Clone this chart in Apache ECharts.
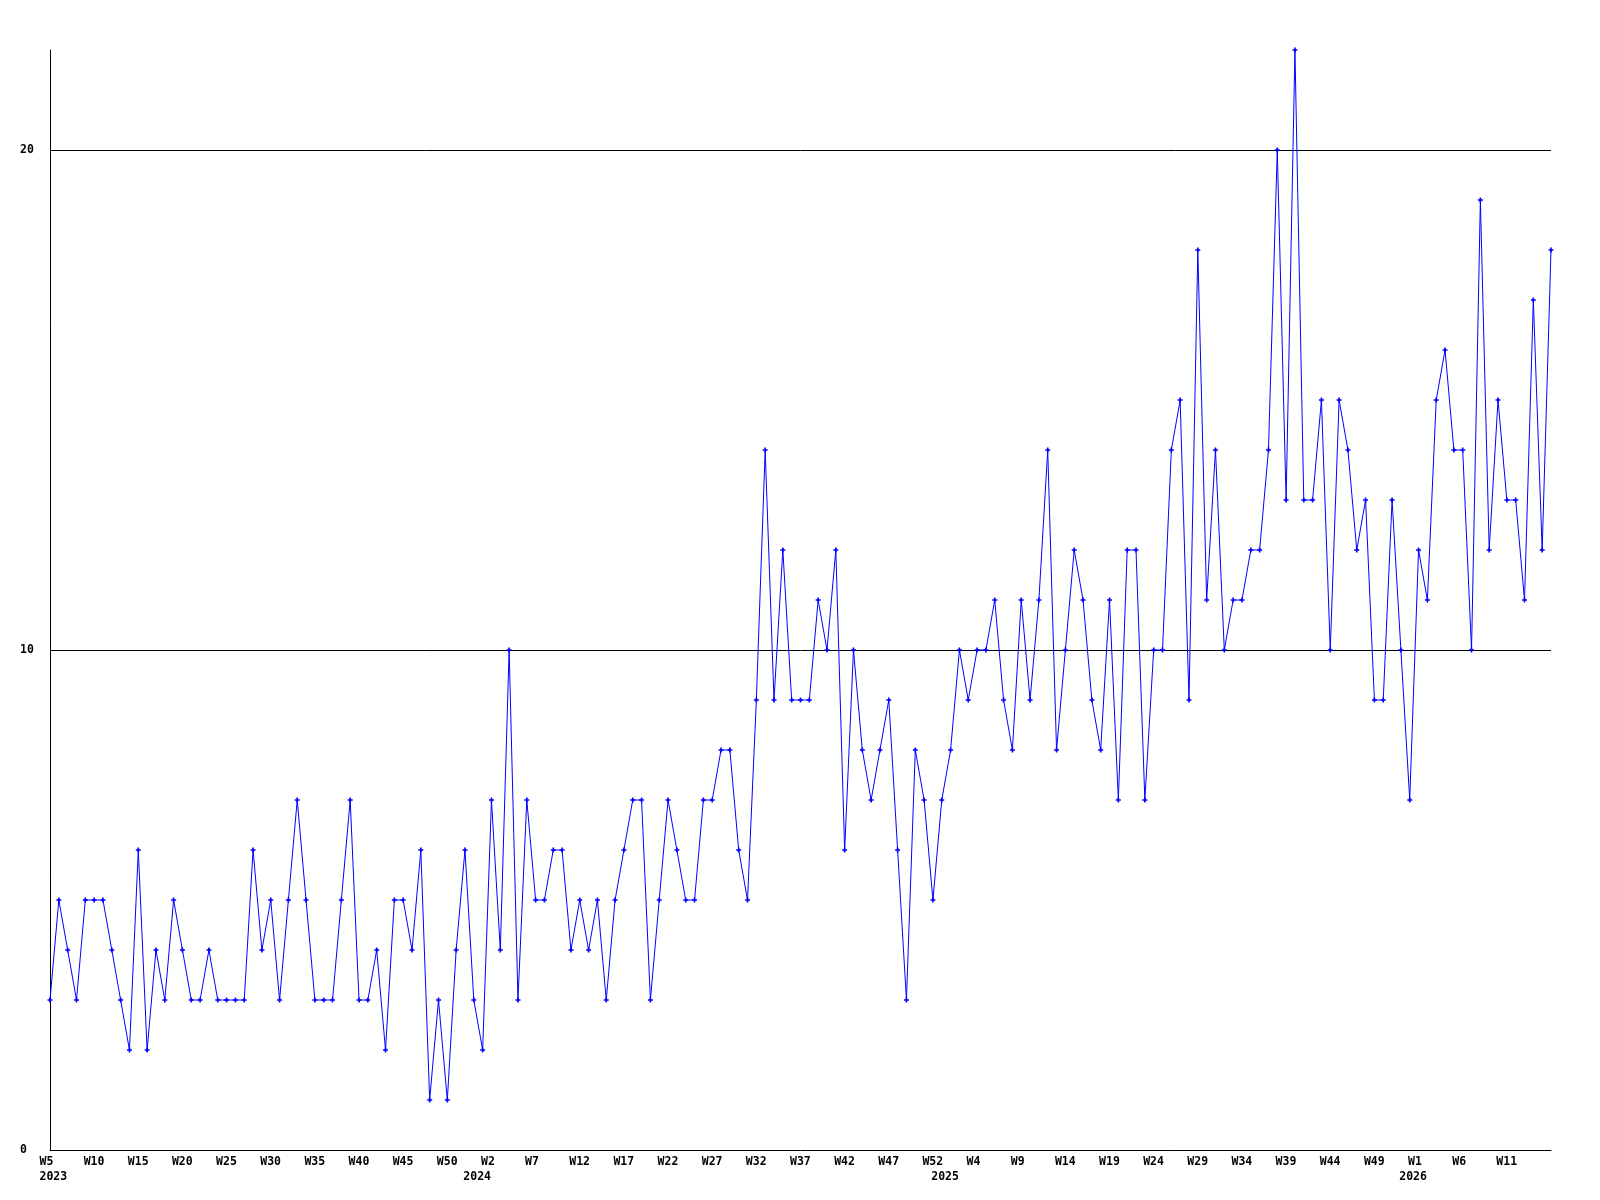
<!DOCTYPE html>
<html>
<head>
<meta charset="utf-8">
<script src="https://cdn.jsdelivr.net/npm/echarts@6/dist/echarts.min.js"></script>
<style>
  html, body { margin: 0; padding: 0; background: #ffffff; }
  #chart { width: 1600px; height: 1200px; }
</style>
</head>
<body>
<div id="chart"></div>
<script>
// Weekly values (171 weeks)
const values = [
  3,5,4,3,5,5,5,4,3,2,6,2,4,3,5,4,3,3,4,3,3,3,3,6,4,5,3,5,7,5,
  3,3,3,5,7,3,3,4,2,5,5,4,6,1,3,1,4,6,3,2,7,4,10,3,7,5,5,6,6,4,
  5,4,5,3,5,6,7,7,3,5,7,6,5,5,7,7,8,8,6,5,9,14,9,12,9,9,9,11,10,12,
  6,10,8,7,8,9,6,3,8,7,5,7,8,10,9,10,10,11,9,8,11,9,11,14,8,10,12,11,9,8,
  11,7,12,12,7,10,10,14,15,9,18,11,14,10,11,11,12,12,14,20,13,22,13,13,15,10,
  15,14,12,13,9,9,13,10,7,12,11,15,16,14,14,10,19,12,15,13,13,11,17,12,18
];

// Category index of each week point
const categories = values.map((v, i) => i);

// Week tick labels (shown every 5th point)
const weekTickIndex = [0,5,10,15,20,25,30,35,40,45,50,55,60,65,70,75,80,85,90,95,100,105,110,115,120,125,130,135,140,145,150,155,160,165];
const weekTickText = ['W5','W10','W15','W20','W25','W30','W35','W40','W45','W50','W2','W7','W12','W17','W22','W27','W32','W37','W42','W47','W52','W4','W9','W14','W19','W24','W29','W34','W39','W44','W49','W1','W6','W11'];

// Year tick labels
const yearTickIndex = [0, 48, 101, 154];
const yearTickText = ['2023', '2024', '2025', '2026'];

// Y axis
const yMin = 0, yMax = 22, yInterval = 10;

const weekMap = {};
weekTickIndex.forEach((idx, k) => { weekMap[idx] = weekTickText[k]; });
const yearMap = {};
yearTickIndex.forEach((idx, k) => { yearMap[idx] = yearTickText[k]; });

const FONT = 'DejaVu Sans Mono';
const labelStyle = { fontFamily: FONT, fontWeight: 'bold', fontSize: 11.5, color: '#000' };

const chart = echarts.init(document.getElementById('chart'), null, { renderer: 'canvas' });
chart.setOption({
  animation: false,
  backgroundColor: '#ffffff',
  grid: [
    { left: 50, right: 49, top: 50, bottom: 50, containLabel: false },
    { left: 39.5, right: 59.5, top: 50, bottom: 50, containLabel: false }
  ],
  xAxis: [
    {
      gridIndex: 0, type: 'category', data: categories, boundaryGap: false, position: 'bottom',
      axisLine: { show: true, lineStyle: { color: '#000', width: 1 } },
      axisTick: { show: false }, axisLabel: { show: false }, splitLine: { show: false }
    },
    {
      gridIndex: 1, type: 'category', data: categories, boundaryGap: false, position: 'bottom',
      axisLine: { show: false }, axisTick: { show: false }, splitLine: { show: false },
      axisLabel: Object.assign({
        show: true, align: 'left', margin: 6,
        interval: (index) => weekMap[index] !== undefined,
        formatter: (value, index) => weekMap[index] || ''
      }, labelStyle)
    },
    {
      gridIndex: 1, type: 'category', data: categories, boundaryGap: false, position: 'bottom', offset: 15,
      axisLine: { show: false }, axisTick: { show: false }, splitLine: { show: false },
      axisLabel: Object.assign({
        show: true, align: 'left', margin: 6,
        interval: (index) => yearMap[index] !== undefined,
        formatter: (value, index) => yearMap[index] || ''
      }, labelStyle)
    }
  ],
  yAxis: [
    {
      gridIndex: 0, type: 'value', min: yMin, max: yMax, interval: yInterval,
      axisLine: { show: true, lineStyle: { color: '#000', width: 1 } },
      axisTick: { show: false },
      splitLine: { show: true, showMinLine: false, showMaxLine: false, lineStyle: { color: '#000', width: 1 } },
      axisLabel: Object.assign({ show: true, align: 'left', margin: 30, showMaxLabel: false }, labelStyle)
    },
    {
      gridIndex: 1, type: 'value', min: yMin, max: yMax, show: false
    }
  ],
  series: [
    {
      type: 'line',
      xAxisIndex: 0, yAxisIndex: 0,
      data: values,
      symbol: 'path://M0,2H2V0H4V2H6V4H4V6H2V4H0Z',
      symbolSize: 5,
      showAllSymbol: true,
      lineStyle: { color: '#0000ff', width: 1 },
      itemStyle: { color: '#0000ff', borderWidth: 0 },
      emphasis: { disabled: true }
    }
  ]
});
</script>
</body>
</html>
